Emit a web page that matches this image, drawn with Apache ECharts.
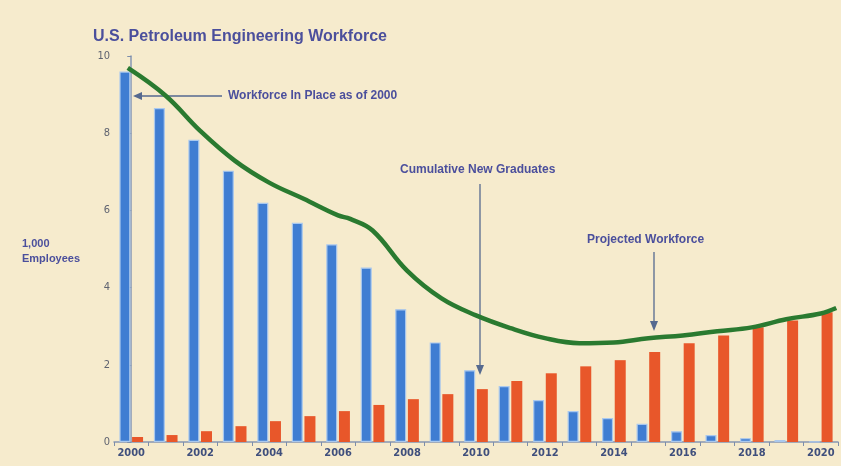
<!DOCTYPE html>
<html>
<head>
<meta charset="utf-8">
<script src="https://cdn.jsdelivr.net/npm/echarts@6/dist/echarts.min.js"></script>
<style>
html,body{margin:0;padding:0;background:#f6ebcd;}
#chart{width:841px;height:466px;}
</style>
</head>
<body>
<div id="chart"></div>
<script>
var years=['2000','2001','2002','2003','2004','2005','2006','2007','2008','2009','2010',
	'2011','2012','2013','2014','2015','2016','2017','2018','2019','2020'];
// workforce in place as of 2000 (blue)
var inPlace=[9.6,8.65,7.83,7.03,6.2,5.68,5.12,4.52,3.44,2.58,1.86,
	1.45,1.09,0.8,0.62,0.47,0.28,0.18,0.1,0.05,0.01];
// cumulative new graduates (orange)
var newGrads=[0.13,0.18,0.28,0.41,0.54,0.67,0.8,0.96,1.11,1.24,1.37,
	1.58,1.78,1.96,2.12,2.33,2.56,2.76,2.97,3.15,3.36];
// projected workforce curve (green), x as year index
var curveX=[-0.1,1,2,3,4,5,6,6.35,7,8,9,10,11,12,13,14,15,16,17,18,19,20,20.45];
var curveY=[9.69,8.97,8.06,7.29,6.72,6.3,5.87,5.78,5.48,4.44,3.72,3.28,2.95,2.69,2.56,2.58,2.69,2.76,2.87,2.97,3.18,3.33,3.47];
var yTicks=[0,2,4,6,8,10];

var curveData=[];
for(var i=0;i<curveX.length;i++){
	curveData.push([curveX[i],curveY[i]]);
}

var textColor='#4b4f9c';
var arrowColor='#55698f';
var narrow='"DejaVu Sans Condensed","Liberation Sans",sans-serif';

var myChart=echarts.init(document.getElementById('chart'));
var option={
	backgroundColor:'#f6ebcd',
	animation:false,
	title:{
		text:'U.S. Petroleum Engineering Workforce',
		left:88,
		top:24,
		textStyle:{color:textColor,fontSize:16,fontWeight:'bold',fontFamily:'Liberation Sans'}
	},
	grid:{left:114,right:3,top:56,bottom:24},
	xAxis:[
		{
			type:'category',
			data:years,
			axisLine:{lineStyle:{color:'#8797b3',width:1.5}},
			axisTick:{show:true,interval:0,length:4,lineStyle:{color:'#7d8eaa'}},
			axisLabel:{interval:1,color:'#3f4f7c',fontSize:11,fontWeight:'bold',
				fontFamily:narrow,margin:6}
		},
		{
			type:'value',
			min:-0.5,
			max:20.5,
			show:false
		}
	],
	yAxis:{
		type:'value',
		min:yTicks[0],
		max:yTicks[yTicks.length-1],
		interval:2,
		axisLine:{show:true,lineStyle:{color:'#8797b3',width:1.5}},
		axisTick:{show:true,length:4,lineStyle:{color:'#7d8eaa'}},
		splitLine:{show:false},
		axisLabel:{color:'#5f6370',fontSize:11,fontFamily:narrow,margin:4}
	},
	series:[
		{
			name:'Workforce in Place as of 2000',
			type:'bar',
			data:inPlace,
			barWidth:11,
			barGap:'15%',
			itemStyle:{color:'#3f7dd2',borderColor:'#a9c8ee',borderWidth:1.2}
		},
		{
			name:'Cumulative New Graduates',
			type:'bar',
			data:newGrads,
			barWidth:11,
			itemStyle:{color:'#e8572a'}
		},
		{
			name:'Projected Workforce',
			type:'line',
			xAxisIndex:1,
			data:curveData,
			smooth:0.4,
			symbol:'none',
			lineStyle:{color:'#2a7a30',width:4.5},
			z:5
		}
	],
	graphic:[
		{type:'text',left:22,top:236,style:{text:'1,000\nEmployees',fill:textColor,
			font:'bold 11px "Liberation Sans"',lineHeight:15}},
		// Workforce in place arrow
		{type:'text',left:228,top:90,style:{text:'Workforce In Place as of 2000',fill:textColor,
			font:'bold 12px "Liberation Sans"'}},
		{type:'line',shape:{x1:222,y1:96,x2:140,y2:96},style:{stroke:arrowColor,lineWidth:1.3}},
		{type:'polygon',shape:{points:[[133,96],[142,92],[142,100]]},style:{fill:arrowColor}},
		// Cumulative new graduates arrow
		{type:'text',left:400,top:164,style:{text:'Cumulative New Graduates',fill:textColor,
			font:'bold 12px "Liberation Sans"'}},
		{type:'line',shape:{x1:480,y1:184,x2:480,y2:368},style:{stroke:arrowColor,lineWidth:1.3}},
		{type:'polygon',shape:{points:[[480,375],[476,365],[484,365]]},style:{fill:arrowColor}},
		// Projected workforce arrow
		{type:'text',left:587,top:234,style:{text:'Projected Workforce',fill:textColor,
			font:'bold 12px "Liberation Sans"'}},
		{type:'line',shape:{x1:654,y1:252,x2:654,y2:324},style:{stroke:arrowColor,lineWidth:1.3}},
		{type:'polygon',shape:{points:[[654,331],[650,321],[658,321]]},style:{fill:arrowColor}}
	]
};
myChart.setOption(option);
</script>
</body>
</html>
